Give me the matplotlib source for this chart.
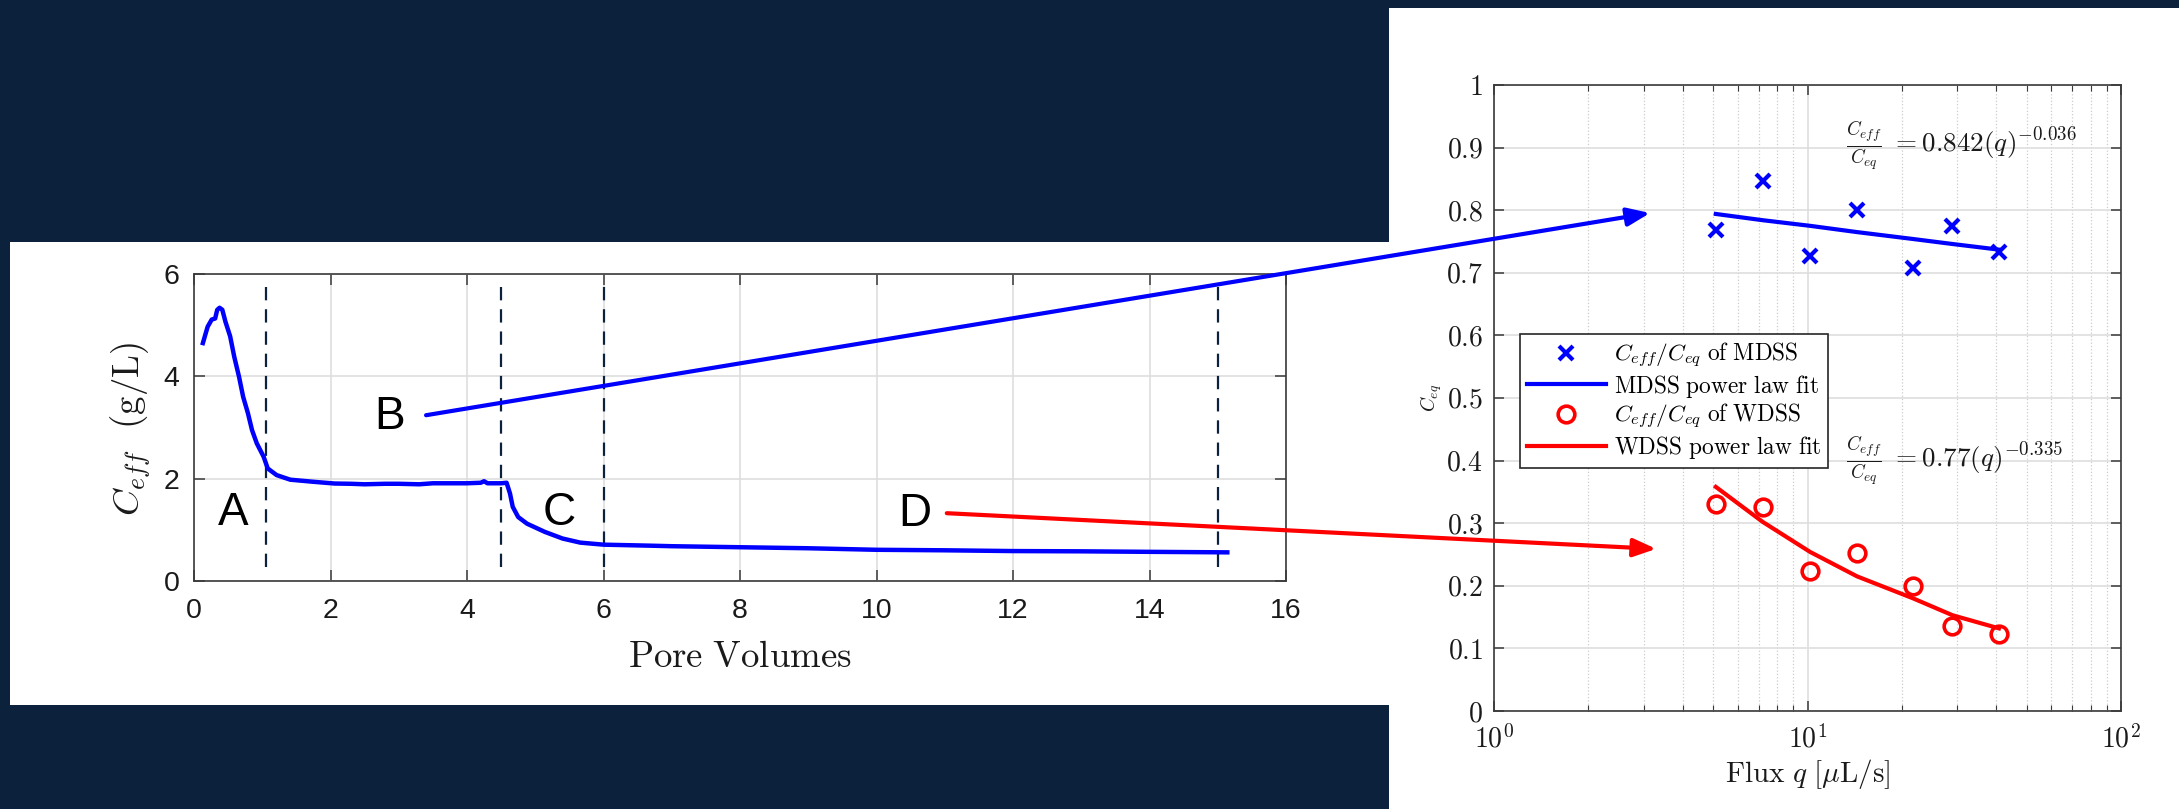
import matplotlib
matplotlib.use('Agg')
import matplotlib.pyplot as plt
from matplotlib.patches import Rectangle, ConnectionPatch, ArrowStyle
from matplotlib.ticker import LogLocator, NullFormatter, FixedLocator, FixedFormatter

plt.rcParams['mathtext.fontset'] = 'cm'
plt.rcParams['font.family'] = ['Liberation Sans', 'DejaVu Sans']

BG = '#0c213b'
W, H = 2179, 809

# ---------------- data: left panel (effluent concentration) ----------------
pore_volumes = [0.13, 0.20, 0.26, 0.31, 0.34, 0.375, 0.415, 0.46, 0.53, 0.59, 0.66,
                0.72, 0.79, 0.85, 0.92, 1.02, 1.08, 1.21, 1.41, 1.74, 2.06, 2.3,
                2.5, 2.8, 3.0, 3.3, 3.5, 3.8, 4.0, 4.2, 4.25, 4.3, 4.5, 4.58,
                4.63, 4.67, 4.75, 4.88, 5.14, 5.40, 5.66, 6.0, 6.7, 7.0, 8.0,
                9.0, 10.0, 11.0, 12.0, 13.0, 14.0, 15.14]
c_eff = [4.65, 4.97, 5.11, 5.13, 5.30, 5.34, 5.30, 5.07, 4.78, 4.38, 3.99,
         3.60, 3.28, 2.95, 2.69, 2.43, 2.20, 2.07, 1.98, 1.94, 1.905, 1.90,
         1.89, 1.90, 1.90, 1.89, 1.91, 1.91, 1.91, 1.92, 1.95, 1.91, 1.91, 1.92,
         1.71, 1.45, 1.25, 1.12, 0.96, 0.83, 0.75, 0.71, 0.69, 0.68, 0.66,
         0.64, 0.61, 0.60, 0.585, 0.58, 0.57, 0.56]
region_bounds = [1.05, 4.5, 6.0, 15.0]
region_bound_span = [0.27, 5.77]
region_names = ['A', 'B', 'C', 'D']
region_x = [0.57, 2.87, 5.35, 10.56]
region_y = [1.32, 3.20, 1.32, 1.31]

# ---------------- data: right panel (normalised concentration vs flux) -----
flux = [5.1, 7.2, 10.2, 14.4, 21.7, 29.0, 40.8]
mdss_ratio = [0.768, 0.847, 0.727, 0.800, 0.707, 0.774, 0.734]
mdss_fit = [0.794, 0.784, 0.775, 0.765, 0.754, 0.746, 0.737]
wdss_ratio = [0.331, 0.326, 0.223, 0.253, 0.200, 0.135, 0.123]
wdss_fit = [0.358, 0.302, 0.254, 0.215, 0.180, 0.153, 0.132]
ratio_ticks = [0, 0.1, 0.2, 0.3, 0.4, 0.5, 0.6, 0.7, 0.8, 0.9, 1.0]
ratio_tick_labels = ['0', '0.1', '0.2', '0.3', '0.4', '0.5', '0.6', '0.7', '0.8', '0.9', '1']
flux_ticks = [1, 10, 100]
flux_tick_labels = [r'$10^{0}$', r'$10^{1}$', r'$10^{2}$']

# arrow anchor points (B -> MDSS, D -> WDSS)
arrow_B_start = (3.40, 3.24)
arrow_B_end = (3.146, 0.7955)
arrow_D_start = (11.03, 1.325)
arrow_D_end = (3.29, 0.259)

fig = plt.figure(figsize=(W / 100, H / 100), dpi=100, facecolor=BG)


def fx(px):
    return px / W


def fy(py):
    return 1 - py / H


# white panels
fig.add_artist(Rectangle((fx(10), fy(705)), fx(1389) - fx(10), fy(242) - fy(705),
                         transform=fig.transFigure, facecolor='white',
                         edgecolor='none', zorder=-1))
fig.add_artist(Rectangle((fx(1389), 0), 1 - fx(1389), fy(8),
                         transform=fig.transFigure, facecolor='white',
                         edgecolor='none', zorder=-1))

SPINE = '#3a3a3a'
GRID = '#dedede'
TXT = '#1a1a1a'

# ---------------- left axes ----------------
ax1 = fig.add_axes([fx(194), fy(581), fx(1286) - fx(194), fy(274) - fy(581)])
ax1.set_xlim(0, 16)
ax1.set_ylim(0, 6)
ax1.set_xticks([0, 2, 4, 6, 8, 10, 12, 14, 16])
ax1.set_yticks([0, 2, 4, 6])
ax1.grid(True, color=GRID, lw=1.2, zorder=0)
ax1.set_axisbelow(True)
ax1.tick_params(direction='in', length=8, width=1.1, top=True, right=True,
                labelsize=20.5, color=SPINE, labelcolor=TXT)
ax1.tick_params(axis='x', pad=12)
ax1.tick_params(axis='y', pad=10.5)
for s in ax1.spines.values():
    s.set_color(SPINE)
    s.set_linewidth(1.2)

for xb in region_bounds:
    ax1.plot([xb, xb], region_bound_span, color=BG, lw=1.6,
             linestyle=(0, (6, 4)), zorder=2)
ax1.plot(pore_volumes, c_eff, color='#0000ff', lw=3.2, zorder=3,
         solid_joinstyle='round')
for name, x, y in zip(region_names, region_x, region_y):
    ax1.text(x, y, name, fontsize=33, ha='center', va='center', color='black',
             zorder=4)

ax1.text(0.5, (581 - 667) / 307, r'$\mathrm{Pore\ Volumes}$', transform=ax1.transAxes,
         ha='center', va='baseline', fontsize=26.5, color=TXT)
ax1.text(-0.058, 0.495, r'$C_{eff}\ \ \mathrm{(g/L)}$', transform=ax1.transAxes,
         ha='center', va='center', rotation=90, fontsize=26.5, color=TXT)

# ---------------- right axes ----------------
ax2 = fig.add_axes([fx(1494), fy(711), fx(2121) - fx(1494), fy(85) - fy(711)])
ax2.set_xscale('log')
ax2.set_xlim(1, 100)
ax2.set_ylim(0, 1)
ax2.xaxis.set_major_locator(FixedLocator(flux_ticks))
ax2.xaxis.set_major_formatter(FixedFormatter(flux_tick_labels))
ax2.xaxis.set_minor_locator(LogLocator(base=10, subs=(2, 3, 4, 5, 6, 7, 8, 9)))
ax2.xaxis.set_minor_formatter(NullFormatter())
ax2.yaxis.set_major_locator(FixedLocator(ratio_ticks))
ax2.yaxis.set_major_formatter(FixedFormatter(['$' + t + '$' for t in ratio_tick_labels]))
ax2.grid(True, which='major', color=GRID, lw=1.2)
ax2.grid(True, which='minor', axis='x', color='#cccccc', lw=0.9, linestyle=':')
ax2.set_axisbelow(True)
ax2.tick_params(which='major', direction='in', length=7, width=1.1, top=True,
                right=True, labelsize=20, color=SPINE, labelcolor=TXT)
ax2.tick_params(which='minor', direction='in', length=4, width=0.8, top=True,
                right=True, color=SPINE)
ax2.tick_params(axis='y', pad=8)
ax2.tick_params(axis='x', pad=10)
for s in ax2.spines.values():
    s.set_color(SPINE)
    s.set_linewidth(1.2)

ax2.plot(flux, mdss_ratio, linestyle='none', marker='x', color='#0000ff',
         ms=10, mew=3, label=r'$C_{eff}/C_{eq}\ \mathrm{of\ MDSS}$', zorder=3)
ax2.plot(flux, mdss_fit, color='#0000ff', lw=3,
         label=r'$\mathrm{MDSS\ power\ law\ fit}$', zorder=3)
ax2.plot(flux, wdss_ratio, linestyle='none', marker='o', mfc='none', mec='red',
         ms=12, mew=2.6, label=r'$C_{eff}/C_{eq}\ \mathrm{of\ WDSS}$', zorder=3)
ax2.plot(flux, wdss_fit, color='red', lw=3,
         label=r'$\mathrm{WDSS\ power\ law\ fit}$', zorder=3)

leg = ax2.legend(loc='upper left', bbox_to_anchor=((1520 - 1494) / 627, (711 - 334) / 626),
                 borderaxespad=0, fontsize=16.8, handlelength=3.4, handletextpad=0.35,
                 borderpad=0.28, labelspacing=0.12, frameon=True, fancybox=False,
                 framealpha=1, edgecolor='#262626')
leg.get_frame().set_linewidth(1.2)

ax2.text((1846 - 1494) / 627, (711 - 153) / 626,
         r'$\frac{C_{eff}}{C_{eq}}\ = 0.842(q)^{-0.036}$', transform=ax2.transAxes,
         ha='left', va='baseline', fontsize=19.5, color=TXT)
ax2.text((1846 - 1494) / 627, (711 - 468) / 626,
         r'$\frac{C_{eff}}{C_{eq}}\ = 0.77(q)^{-0.335}$', transform=ax2.transAxes,
         ha='left', va='baseline', fontsize=19.5, color=TXT)

ax2.text(0.5, (711 - 782) / 626, r'$\mathrm{Flux}\ q\ [\mu\mathrm{L/s}]$',
         transform=ax2.transAxes, ha='center', va='baseline', fontsize=21,
         color=TXT)
ax2.text(-0.100, 0.5, r'$C_{eq}$', transform=ax2.transAxes, ha='center',
         va='center', rotation=90, fontsize=14, color=TXT)

# ---------------- connecting arrows ----------------
for start, end, col in [(arrow_B_start, arrow_B_end, '#0000ff'),
                        (arrow_D_start, arrow_D_end, 'red')]:
    con = ConnectionPatch(xyA=start, coordsA=ax1.transData, xyB=end,
                          coordsB=ax2.transData,
                          arrowstyle=ArrowStyle('-|>', head_length=0.55, head_width=0.22),
                          mutation_scale=25, lw=3, color=col, shrinkA=0, shrinkB=0,
                          zorder=10)
    fig.add_artist(con)

fig.savefig('out.png', dpi=100, facecolor=BG)
